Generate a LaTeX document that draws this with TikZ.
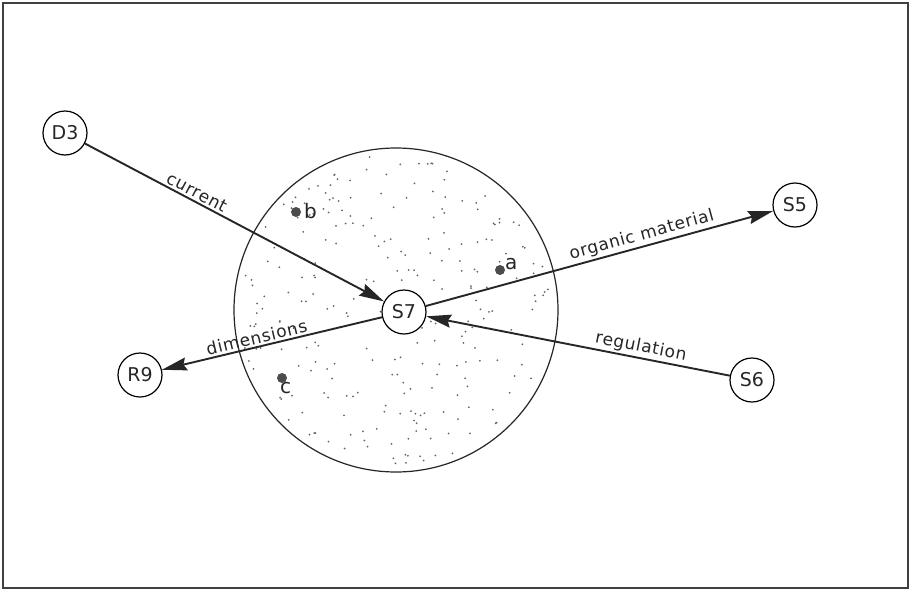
\documentclass[tikz,border=0pt]{standalone}
\usepackage{fontspec}
\setmainfont{DejaVu Sans}
\usetikzlibrary{arrows.meta,calc}
\tikzset{
  stn/.style={circle,draw,line width=1.2pt,fill=white,minimum size=44pt,inner sep=0pt,font=\fontsize{19}{22}\selectfont,text=black!85},
  flow/.style={line width=1.9pt,draw=black!85,-{Stealth[length=25pt,width=13pt,inset=3pt]}},
  lbl/.style={sloped,above,font=\fontsize{17}{20}\selectfont\addfontfeature{LetterSpace=4},text=black!85,inner sep=2pt},
  spot/.style={circle,fill=black!70,inner sep=0pt,minimum size=10pt},
  spotlbl/.style={font=\fontsize{20}{22}\selectfont,text=black!85,inner sep=0pt}
}
\begin{document}
\begin{tikzpicture}[x=1pt,y=-1pt]
\useasboundingbox (0,0) rectangle (911,592);
\fill[white] (0,0) rectangle (911,592);
\draw[line width=1.5pt,black!75] (3,3) rectangle (908,588);
% big stippled circle
\coordinate (ctr) at (396,310);
\draw[line width=1.2pt,black!85] (ctr) circle[radius=162];
\pgfmathsetseed{4711}
\foreach \i in {1,...,260}{
  \pgfmathsetmacro{\rr}{156*sqrt(rnd)}
  \pgfmathsetmacro{\aa}{360*rnd}
  \fill[black!60] ($(ctr)+(\aa:\rr)$) circle[radius=1.0];
}
% stations
\node[stn] (D3) at (65,133) {D3};
\node[stn] (S5) at (795,205) {S5};
\node[stn] (S7) at (404,312) {S7};
\node[stn] (R9) at (140,375) {R9};
\node[stn] (S6) at (752,380) {S6};
% connectors
\draw[flow] (D3) -- node[lbl,pos=0.36] {current} (S7);
\draw[flow] (S7) -- node[lbl,pos=0.63] {organic material} (S5);
\draw[flow] (S7) -- node[lbl,pos=0.56] {dimensions} (R9);
\draw[flow] (S6) -- node[lbl,pos=0.30] {regulation} (S7);
% sample spots
\node[spot] (a) at (500,270) {};
\node[spotlbl,anchor=south west] (la) at (505,270) {a};
\node[spot] (b) at (296,212) {};
\node[spotlbl,anchor=west] (lb) at (304,211) {b};
\node[spot] (c) at (282,378) {};
\node[spotlbl,anchor=north west] (lc) at (280,382) {c};
\end{tikzpicture}
\end{document}
